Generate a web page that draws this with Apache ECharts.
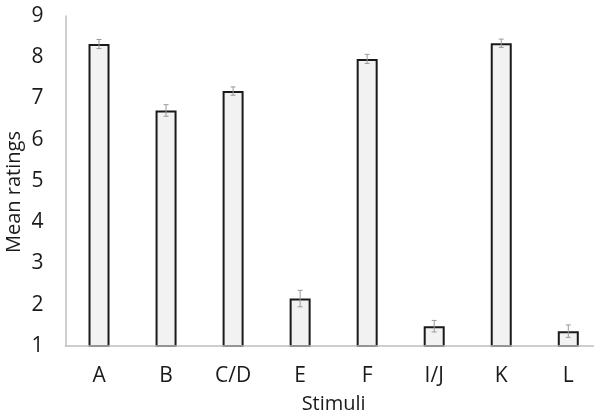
<!DOCTYPE html>
<html>
<head>
<meta charset="utf-8">
<script src="https://cdn.jsdelivr.net/npm/echarts@6/dist/echarts.min.js"></script>
<style>
html,body{margin:0;padding:0;background:#fff;}
#chart{width:594px;height:413px;}
</style>
</head>
<body>
<div id="chart"></div>
<script>
const categories = ['A', 'B', 'C/D', 'E', 'F', 'I/J', 'K', 'L'];
const meanRatings = [8.32, 6.71, 7.18, 2.15, 7.96, 1.48, 8.34, 1.36];
const errorValues = [0.11, 0.14, 0.10, 0.20, 0.11, 0.14, 0.10, 0.15];
const yTicks = [1, 2, 3, 4, 5, 6, 7, 8, 9];

const FONT = 'Open Sans';
const TEXT = '#1a1a1a';

const chart = echarts.init(document.getElementById('chart'), null, {renderer: 'canvas'});

const errorData = categories.map((c, i) => [i, meanRatings[i] - errorValues[i], meanRatings[i] + errorValues[i]]);

chart.setOption({
  animation: false,
  backgroundColor: '#fff',
  grid: {left: 65.5, top: 16, bottom: 67, right: -7.8, containLabel: false, outerBoundsMode: 'none'},
  xAxis: {
    type: 'category',
    data: categories,
    name: 'Stimuli',
    nameLocation: 'middle',
    nameGap: 48,
    nameMoveOverlap: false,
    nameTextStyle: {fontFamily: FONT, fontSize: 20, color: TEXT},
    axisLine: {lineStyle: {color: '#bfbfbf', width: 1.5}},
    axisTick: {show: false},
    axisLabel: {fontFamily: FONT, fontSize: 21, color: TEXT, margin: 20},
    z: 5
  },
  yAxis: {
    type: 'value',
    min: yTicks[0],
    max: yTicks[yTicks.length - 1],
    interval: 1,
    name: 'Mean ratings',
    nameLocation: 'middle',
    nameGap: 41,
    nameMoveOverlap: false,
    nameTextStyle: {fontFamily: FONT, fontSize: 20, color: TEXT, padding: [0, 22, 0, 0]},
    axisLine: {show: true, lineStyle: {color: '#bfbfbf', width: 1.5}},
    axisTick: {show: false},
    splitLine: {show: false},
    axisLabel: {fontFamily: FONT, fontSize: 21, color: TEXT, margin: 22}
  },
  series: [
    {
      type: 'bar',
      data: meanRatings,
      barWidth: 21,
      clip: true,
      itemStyle: {color: '#f2f2f2', borderColor: '#1a1a1a', borderWidth: 2}
    },
    {
      type: 'custom',
      data: errorData,
      z: 10,
      renderItem: function (params, api) {
        const x = api.value(0);
        const lo = api.coord([x, api.value(1)]);
        const hi = api.coord([x, api.value(2)]);
        const hw = 2.5;
        const style = {stroke: '#9a9a9a', lineWidth: 1, fill: null};
        return {
          type: 'group',
          children: [
            {type: 'line', shape: {x1: lo[0], y1: lo[1], x2: hi[0], y2: hi[1]}, style: style},
            {type: 'line', shape: {x1: hi[0] - hw, y1: hi[1], x2: hi[0] + hw, y2: hi[1]}, style: style},
            {type: 'line', shape: {x1: lo[0] - hw, y1: lo[1], x2: lo[0] + hw, y2: lo[1]}, style: style}
          ]
        };
      }
    }
  ]
});
</script>
</body>
</html>
